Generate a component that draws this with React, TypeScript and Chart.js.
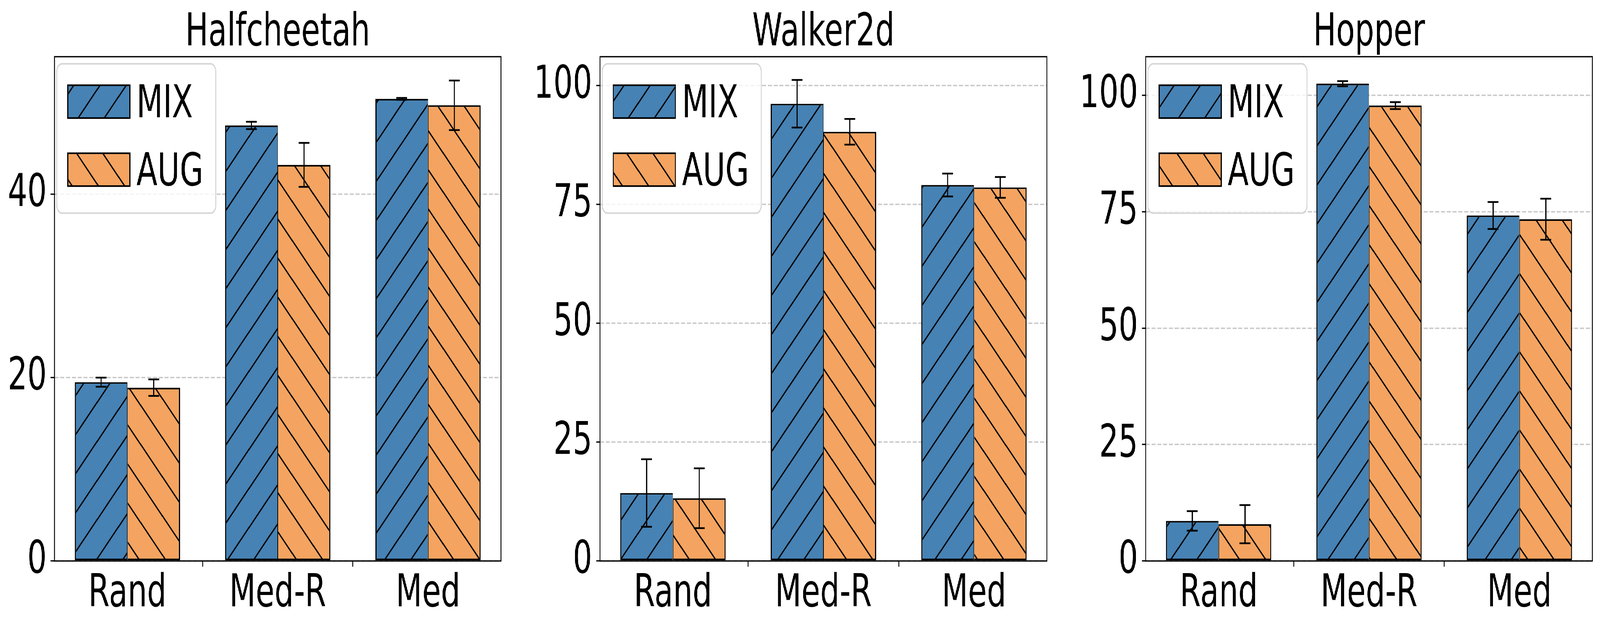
import React, { useEffect, useRef } from 'react';
import { Chart, registerables } from 'chart.js';

Chart.register(...registerables);

// ---------------- data ----------------
const categories = ['Rand', 'Med-R', 'Med'];
const seriesLabels = ['MIX', 'AUG'];
const panelTitles = ['Halfcheetah', 'Walker2d', 'Hopper'];

const halfcheetahMix = [19.5, 47.5, 50.4];
const halfcheetahMixErr = [0.5, 0.4, 0.1];
const halfcheetahAug = [18.9, 43.2, 49.7];
const halfcheetahAugErr = [0.9, 2.4, 2.7];

const walkerMix = [14.3, 96.2, 79.1];
const walkerMixErr = [7.1, 5.0, 2.4];
const walkerAug = [13.2, 90.3, 78.6];
const walkerAugErr = [6.3, 2.7, 2.2];

const hopperMix = [8.6, 102.5, 74.2];
const hopperMixErr = [2.1, 0.55, 2.9];
const hopperAug = [7.9, 97.8, 73.4];
const hopperAugErr = [4.1, 0.75, 4.4];

const yMaxes = [55.0, 106.1, 108.3];
const yStepSizes = [20, 25, 25];

const panelSeries = [
  { mix: halfcheetahMix, mixErr: halfcheetahMixErr, aug: halfcheetahAug, augErr: halfcheetahAugErr },
  { mix: walkerMix, mixErr: walkerMixErr, aug: walkerAug, augErr: walkerAugErr },
  { mix: hopperMix, mixErr: hopperMixErr, aug: hopperAug, augErr: hopperAugErr },
];

// ---------------- styling / layout ----------------
const FIG_W = 6107;
const FIG_H = 1609;
const FONT = "'DejaVu Sans', sans-serif";
const FS = 116.7;
const MIX_COLOR = '#4682B4';
const AUG_COLOR = '#F4A460';
const SPINE_W = 3.33;
const EDGE_W = 4.17;

const layouts = [
  { left: 0, width: 2000, yAxisW: 208, padRight: 88 },
  { left: 2000, width: 2100, yAxisW: 290, padRight: 104 },
  { left: 4100, width: 2007, yAxisW: 273, padRight: 29 },
];

function makeHatch(color: string, dir: '/' | '\\'): CanvasPattern {
  const c = document.createElement('canvas');
  c.width = 100;
  c.height = 100;
  const g = c.getContext('2d')!;
  g.fillStyle = color;
  g.fillRect(0, 0, 100, 100);
  g.strokeStyle = '#000';
  g.lineWidth = EDGE_W;
  g.beginPath();
  if (dir === '/') {
    for (const k of [0, 100, 200]) {
      g.moveTo(k + 50, -50);
      g.lineTo(k - 150, 150);
    }
  } else {
    for (const k of [-100, 0, 100]) {
      g.moveTo(k - 50, -50);
      g.lineTo(k + 150, 150);
    }
  }
  g.stroke();
  const ctx = document.createElement('canvas').getContext('2d')!;
  return ctx.createPattern(c, 'repeat')!;
}

const overlayPlugin = {
  id: 'mplOverlay',
  afterDatasetsDraw(chart: any) {
    const { ctx, chartArea: a } = chart;
    const yScale = chart.scales.y;
    ctx.save();
    chart.data.datasets.forEach((ds: any, i: number) => {
      const meta = chart.getDatasetMeta(i);
      meta.data.forEach((bar: any, j: number) => {
        const v = ds.data[j].y;
        const e = ds.errors[j];
        const yt = yScale.getPixelForValue(v + e);
        const yb = yScale.getPixelForValue(v - e);
        ctx.strokeStyle = '#000';
        ctx.lineWidth = 4.5;
        ctx.beginPath();
        ctx.moveTo(bar.x, yt);
        ctx.lineTo(bar.x, yb);
        ctx.moveTo(bar.x - 20.8, yt);
        ctx.lineTo(bar.x + 20.8, yt);
        ctx.moveTo(bar.x - 20.8, yb);
        ctx.lineTo(bar.x + 20.8, yb);
        ctx.stroke();
      });
    });
    ctx.strokeStyle = '#000';
    ctx.lineWidth = SPINE_W;
    ctx.strokeRect(a.left, a.top, a.right - a.left, a.bottom - a.top);
    ctx.restore();
  },
  afterDraw(chart: any) {
    const { ctx, chartArea: a } = chart;
    ctx.save();
    const fx = a.left + 8.7;
    const fy = a.top + 18.3;
    ctx.beginPath();
    ctx.roundRect(fx, fy, 607, 382, 20);
    ctx.fillStyle = 'rgba(255,255,255,0.8)';
    ctx.fill();
    ctx.lineWidth = 4;
    ctx.strokeStyle = 'rgba(204,204,204,0.8)';
    ctx.stroke();
    chart.data.datasets.forEach((ds: any, i: number) => {
      const sx = a.left + 51;
      const sy = a.top + 73 + i * 174;
      ctx.fillStyle = ds.backgroundColor;
      ctx.fillRect(sx, sy, 237, 84);
      ctx.lineWidth = EDGE_W;
      ctx.strokeStyle = '#000';
      ctx.strokeRect(sx, sy, 237, 84);
      ctx.fillStyle = '#000';
      ctx.font = `${FS}px ${FONT}`;
      ctx.textBaseline = 'alphabetic';
      ctx.textAlign = 'left';
      ctx.fillText(ds.label, a.left + 313, a.top + 155 + i * 174);
    });
    ctx.restore();
  },
};

function buildConfig(p: number, mixPattern: CanvasPattern, augPattern: CanvasPattern, dpr: number): any {
  const s = panelSeries[p];
  const L = layouts[p];
  const toPoints = (arr: number[]) => arr.map((v, i) => ({ x: i, y: v }));
  return {
    type: 'bar',
    data: {
      datasets: [
        {
          label: seriesLabels[0],
          data: toPoints(s.mix),
          errors: s.mixErr,
          backgroundColor: mixPattern,
          borderColor: '#000',
          borderWidth: { top: EDGE_W, left: EDGE_W, bottom: EDGE_W, right: EDGE_W / 2 },
          borderSkipped: false,
          categoryPercentage: 0.7,
          barPercentage: 1.0,
        },
        {
          label: seriesLabels[1],
          data: toPoints(s.aug),
          errors: s.augErr,
          backgroundColor: augPattern,
          borderColor: '#000',
          borderWidth: { top: EDGE_W, left: EDGE_W / 2, bottom: EDGE_W, right: EDGE_W },
          borderSkipped: false,
          categoryPercentage: 0.7,
          barPercentage: 1.0,
        },
      ],
    },
    options: {
      responsive: false,
      animation: false,
      devicePixelRatio: dpr,
      events: [],
      layout: { padding: { left: 0, right: L.padRight, top: 0, bottom: 0 } },
      plugins: {
        legend: { display: false },
        tooltip: { enabled: false },
        title: {
          display: true,
          text: panelTitles[p],
          color: '#000',
          fullSize: false,
          font: { family: FONT, size: FS, weight: 'normal', lineHeight: 0.9 },
          padding: { top: 33.5, bottom: 6.5 },
        },
      },
      scales: {
        x: {
          type: 'linear',
          min: -0.485,
          max: 2.485,
          offset: false,
          afterBuildTicks: (scale: any) => {
            scale.ticks = categories.map((_, i) => ({ value: i }));
          },
          afterFit: (scale: any) => {
            scale.height = 174;
          },
          ticks: {
            autoSkip: false,
            maxRotation: 0,
            minRotation: 0,
            padding: 1,
            color: '#000',
            font: { family: FONT, size: FS },
            callback: (value: number) => categories[value] ?? '',
          },
          grid: {
            display: true,
            drawOnChartArea: false,
            drawTicks: true,
            tickLength: 14.6,
            tickWidth: SPINE_W,
            tickColor: '#000',
          },
          border: { display: false },
        },
        y: {
          type: 'linear',
          min: 0,
          max: yMaxes[p],
          afterFit: (scale: any) => {
            scale.width = L.yAxisW;
          },
          ticks: {
            stepSize: yStepSizes[p],
            includeBounds: false,
            padding: 15,
            color: '#000',
            font: { family: FONT, size: FS },
          },
          grid: {
            display: true,
            drawOnChartArea: true,
            drawTicks: true,
            color: 'rgba(176,176,176,0.7)',
            lineWidth: 3.5,
            tickLength: 14.6,
            tickWidth: SPINE_W,
            tickColor: '#000',
            tickBorderDash: [],
          },
          border: { display: false, dash: [15.4, 6.7] },
        },
      },
    },
    plugins: [overlayPlugin],
  };
}

function getViewport(): { sx: number; sy: number; vw: number; vh: number } {
  const vw = typeof window !== 'undefined' && window.innerWidth > 0 ? window.innerWidth : FIG_W;
  const vh = typeof window !== 'undefined' && window.innerHeight > 0 ? window.innerHeight : FIG_H;
  return { sx: vw / FIG_W, sy: vh / FIG_H, vw, vh };
}

export default function App() {
  const r0 = useRef<HTMLCanvasElement | null>(null);
  const r1 = useRef<HTMLCanvasElement | null>(null);
  const r2 = useRef<HTMLCanvasElement | null>(null);
  const refs = [r0, r1, r2];
  const { sx, sy, vw, vh } = getViewport();

  useEffect(() => {
    document.body.style.margin = '0';
    document.body.style.overflow = 'hidden';
    document.documentElement.style.overflow = 'hidden';
    const dpr = Math.max(1, Math.max(sx, sy) * (window.devicePixelRatio || 1));
    const mixPattern = makeHatch(MIX_COLOR, '/');
    const augPattern = makeHatch(AUG_COLOR, '\\');
    const charts = refs.map(
      (r, i) => new Chart(r.current as HTMLCanvasElement, buildConfig(i, mixPattern, augPattern, dpr))
    );
    return () => charts.forEach((c) => c.destroy());
  }, []);

  return (
    <div
      style={{
        position: 'absolute',
        left: 0,
        top: 0,
        width: vw,
        height: vh,
        overflow: 'hidden',
        background: '#fff',
      }}
    >
      <div
        style={{
          position: 'absolute',
          left: 0,
          top: 0,
          width: FIG_W,
          height: FIG_H,
          background: '#fff',
          transform: `scale(${sx}, ${sy})`,
          transformOrigin: '0 0',
        }}
      >
        {layouts.map((l, i) => (
          <canvas
            key={i}
            ref={refs[i]}
            width={l.width}
            height={FIG_H}
            style={{ position: 'absolute', left: l.left, top: 0, width: l.width, height: FIG_H }}
          />
        ))}
      </div>
    </div>
  );
}
